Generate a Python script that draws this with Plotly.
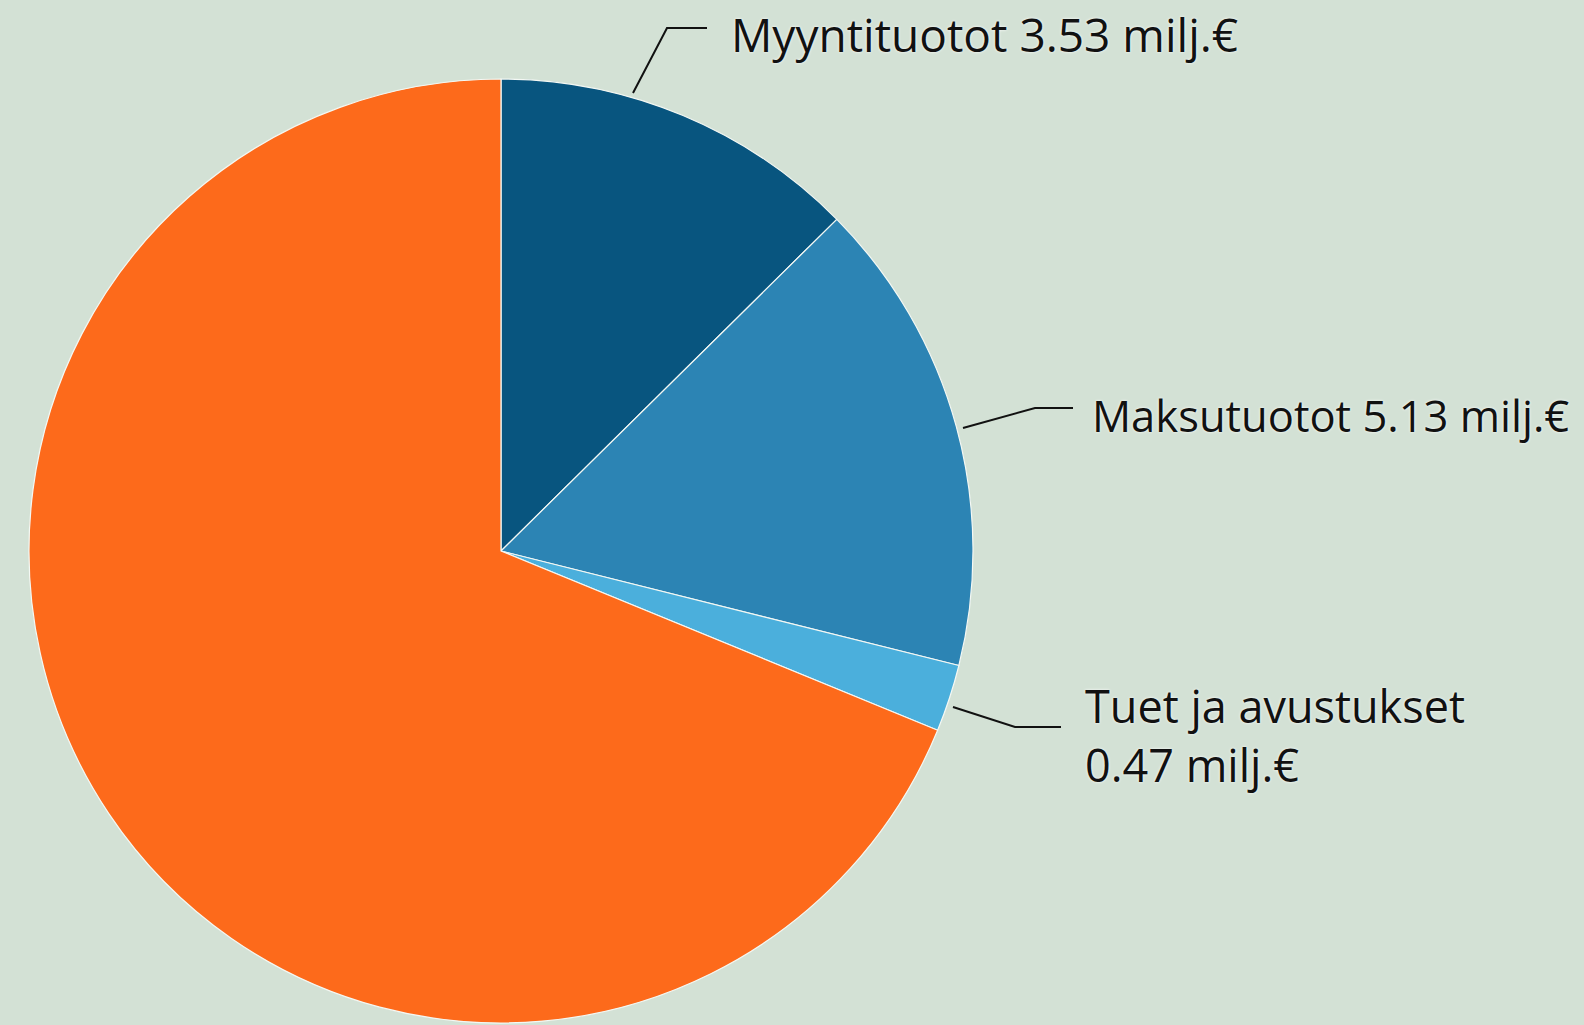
import plotly.graph_objects as go

# Data (slice shares, in %), and label texts
categories = ["Myyntituotot", "Maksutuotot", "Tuet ja avustukset", "Muut tuotot"]
shares = [12.6, 16.3, 2.3, 68.8]
amounts = ["3.53 milj.€", "5.13 milj.€", "0.47 milj.€", ""]
colors = ["#08557F", "#2C84B4", "#4BAFDC", "#FD6A1B"]

W, H = 1584, 1025
BG = "#D3E1D5"

cx, cy, r = 501, 551, 472

fig = go.Figure()
fig.add_trace(go.Pie(
    labels=categories,
    values=shares,
    sort=False,
    direction="clockwise",
    rotation=0,
    textinfo="none",
    hoverinfo="label+percent",
    marker=dict(colors=colors, line=dict(color="#F4F8F4", width=1.2)),
    domain=dict(x=[(cx - r) / W, (cx + r) / W], y=[(H - cy - r) / H, (H - cy + r) / H]),
    showlegend=False,
))


def px(x):
    return x / W


def py(y):
    return 1 - y / H


def font(size):
    return dict(family="Open Sans, Noto Sans, sans-serif", size=size, color="#111111",
                shadow="0px 0px 3px white")


labels_cfg = [
    # (text, text x, text y, font size, leader path points)
    (f"{categories[0]} {amounts[0]}", 729, 34, 46, [(633, 93), (667, 28), (707, 28)]),
    (f"{categories[1]} {amounts[1]}", 1090, 415, 43.5, [(963, 428), (1035, 408), (1073, 408)]),
    (f"{categories[2]}<br>{amounts[2]}", 1083, 735, 45, [(953, 707), (1015, 727), (1061, 727)]),
]

for text, tx, ty, fs, pts in labels_cfg:
    fig.add_annotation(
        x=px(tx), y=py(ty), xref="paper", yref="paper",
        text=text, showarrow=False, xanchor="left", yanchor="middle",
        align="left", font=font(fs),
    )
    path = "M " + " L ".join(f"{px(x)},{py(y)}" for x, y in pts)
    fig.add_shape(type="path", path=path, xref="paper", yref="paper",
                  line=dict(color="#111111", width=2))

fig.update_layout(
    width=W, height=H,
    paper_bgcolor=BG, plot_bgcolor=BG,
    margin=dict(l=0, r=0, t=0, b=0, pad=0),
)

fig.write_html(
    "out.html",
    config={"displayModeBar": False},
    post_script="document.body.style.margin='0';document.body.style.overflow='hidden';"
                "document.body.style.background='" + BG + "';",
)
